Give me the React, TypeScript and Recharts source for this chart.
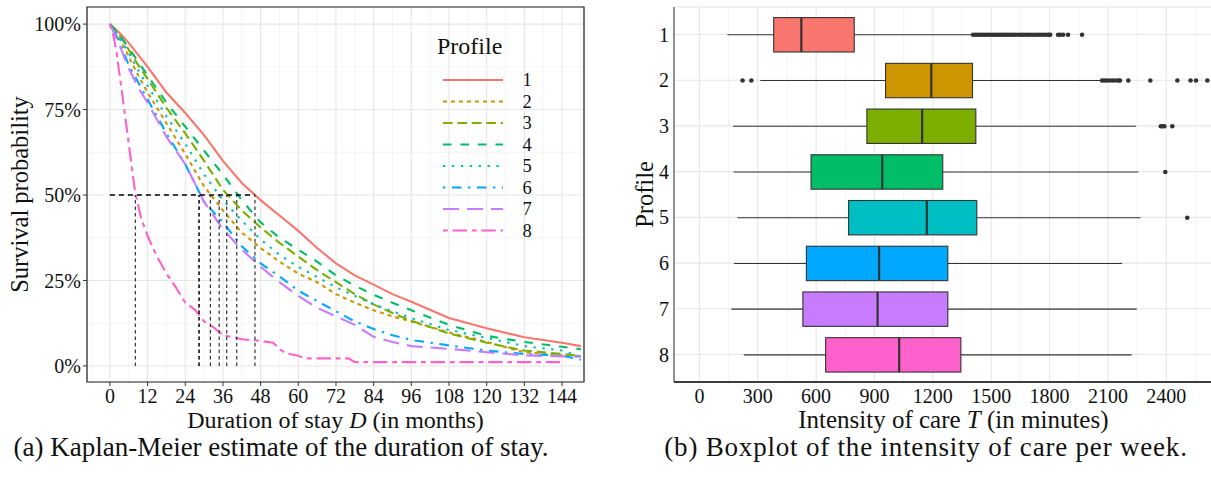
import React from "react";
import {
  LineChart,
  Line,
  ComposedChart,
  Bar,
  XAxis,
  YAxis,
  CartesianGrid,
  ReferenceLine,
  ReferenceArea,
  Legend,
  Label,
} from "recharts";

// ---- Kaplan-Meier curves (months, survival) ----
const months = [0, 3, 6, 9, 12, 18, 24, 30, 36, 42, 48, 54, 60, 66, 72, 78, 84, 90, 96, 108, 120, 132, 144, 150];
const surv1 = [1, 0.975, 0.945, 0.91, 0.875, 0.8, 0.74, 0.675, 0.6, 0.535, 0.485, 0.44, 0.395, 0.345, 0.3, 0.265, 0.238, 0.21, 0.188, 0.14, 0.11, 0.084, 0.068, 0.058];
const surv2 = [1, 0.96, 0.905, 0.85, 0.8, 0.71, 0.62, 0.525, 0.455, 0.39, 0.345, 0.305, 0.27, 0.245, 0.21, 0.185, 0.163, 0.145, 0.13, 0.098, 0.07, 0.04, 0.031, 0.029];
const surv3 = [1, 0.97, 0.925, 0.88, 0.84, 0.755, 0.68, 0.6, 0.515, 0.455, 0.405, 0.36, 0.32, 0.28, 0.245, 0.21, 0.18, 0.155, 0.132, 0.095, 0.068, 0.045, 0.035, 0.029];
const surv4 = [1, 0.97, 0.93, 0.89, 0.85, 0.77, 0.7, 0.63, 0.56, 0.485, 0.42, 0.375, 0.34, 0.305, 0.265, 0.235, 0.208, 0.185, 0.163, 0.12, 0.088, 0.07, 0.056, 0.049];
const surv5 = [1, 0.965, 0.915, 0.865, 0.82, 0.73, 0.65, 0.56, 0.485, 0.425, 0.37, 0.325, 0.29, 0.26, 0.23, 0.205, 0.18, 0.16, 0.14, 0.105, 0.082, 0.058, 0.045, 0.027];
const surv6 = [1, 0.95, 0.88, 0.83, 0.78, 0.68, 0.59, 0.48, 0.42, 0.35, 0.3, 0.262, 0.22, 0.19, 0.16, 0.13, 0.108, 0.09, 0.076, 0.06, 0.045, 0.035, 0.03, 0.018];
const surv7 = [1, 0.94, 0.87, 0.815, 0.77, 0.67, 0.59, 0.48, 0.4, 0.34, 0.29, 0.245, 0.205, 0.17, 0.145, 0.12, 0.085, 0.07, 0.058, 0.05, 0.04, 0.031, 0.028, 0.027];
const months8 = [0, 1, 2, 4, 6, 8, 10, 12, 15, 18, 21, 24, 27, 30, 33, 36, 42, 48, 52, 54, 56, 60, 62, 76, 78, 145];
const surv8 = [1, 0.97, 0.925, 0.79, 0.65, 0.51, 0.43, 0.38, 0.32, 0.27, 0.23, 0.185, 0.165, 0.13, 0.113, 0.09, 0.078, 0.073, 0.068, 0.05, 0.037, 0.03, 0.022, 0.022, 0.011, 0.011];
const medianStay = [46.2, 32, 37.2, 40.4, 34.8, 28.3, 28.5, 8.1];

const monthTicks = [0, 12, 24, 36, 48, 60, 72, 84, 96, 108, 120, 132, 144];
const monthMinor = [-6, 6, 18, 30, 42, 54, 66, 78, 90, 102, 114, 126, 138, 150];
const survTicks = [0, 0.25, 0.5, 0.75, 1];
const survMinor = [0.125, 0.375, 0.625, 0.875];

// ---- Boxplot of intensity of care (minutes) ----
const profiles = ["1", "2", "3", "4", "5", "6", "7", "8"];
const whiskerLow = [144, 313, 173, 176, 195, 178, 164, 228];
const quart1 = [382, 957, 861, 574, 767, 550, 532, 649];
const medianCare = [524, 1192, 1145, 940, 1169, 924, 916, 1027];
const quart3 = [796, 1404, 1421, 1251, 1426, 1277, 1277, 1344];
const whiskerHigh = [1406, 2068, 2244, 2256, 2268, 2173, 2248, 2222];
const outliers1 = [1407, 1420, 1432, 1445, 1458, 1470, 1483, 1496, 1510, 1522, 1535, 1548, 1560, 1573, 1586, 1600, 1612, 1625, 1640, 1655, 1668, 1682, 1695, 1710, 1725, 1740, 1752, 1768, 1782, 1795, 1803, 1844, 1856, 1870, 1895, 1967];
const outliers2 = [222, 267, 2070, 2082, 2095, 2110, 2125, 2140, 2155, 2162, 2205, 2318, 2457, 2525, 2553, 2611];
const outliers3 = [2372, 2380, 2390, 2431];
const outliers4 = [2395];
const outliers5 = [2508];
const minuteTicks = [0, 300, 600, 900, 1200, 1500, 1800, 2100, 2400];
const minuteMinor = [150, 450, 750, 1050, 1350, 1650, 1950, 2250, 2550];

const COLORS = ["#F8766D", "#CD9600", "#7CAE00", "#00BE67", "#00BFC4", "#00A9FF", "#C77CFF", "#FF61CC"];
const DASHES = ["", "4 4", "9.6 4.8", "8.5 9", "2.4 6.5", "2.4 6.5 9.6 6.5", "16 8", "4.8 4.8 14.4 4.8"];
const FONT = '"Liberation Serif", "Times New Roman", serif';
const INK = "#111";

const kmSeries = [surv1, surv2, surv3, surv4, surv5, surv6, surv7].map((s) =>
  months.map((t, i) => ({ t, s: s[i] }))
);
kmSeries.push(months8.map((t, i) => ({ t, s: surv8[i] })));

const outliers = [outliers1, outliers2, outliers3, outliers4, outliers5, [], [], []];
const boxData = profiles.map((p, i) => ({
  profile: p,
  lo: whiskerLow[i],
  q1: quart1[i],
  med: medianCare[i],
  q3: quart3[i],
  hi: whiskerHigh[i],
  out: outliers[i],
}));

function KmLegend() {
  return (
    <svg width={130} height={225} style={{ fontFamily: FONT }}>
      <text x={7} y={26} fontSize={24} fill={INK}>
        Profile
      </text>
      {profiles.map((p, i) => {
        const y = 52 + i * 21.5;
        return (
          <g key={p}>
            <line x1={13} x2={73} y1={y} y2={y} stroke={COLORS[i]} strokeWidth={2} strokeDasharray={DASHES[i]} />
            <text x={97} y={y + 6} fontSize={18.5} fill={INK} textAnchor="middle">
              {p}
            </text>
          </g>
        );
      })}
    </svg>
  );
}

function BoxShape(props: any) {
  const { x, y, width, height, payload } = props;
  const i = profiles.indexOf(payload.profile);
  const px = (v: number) => x + ((v - payload.lo) / (payload.hi - payload.lo)) * width;
  const cy = y + height / 2;
  return (
    <g>
      <line x1={px(payload.lo)} x2={px(payload.q1)} y1={cy} y2={cy} stroke="#333" strokeWidth={1.1} />
      <line x1={px(payload.q3)} x2={px(payload.hi)} y1={cy} y2={cy} stroke="#333" strokeWidth={1.1} />
      <rect
        x={px(payload.q1)}
        y={y}
        width={px(payload.q3) - px(payload.q1)}
        height={height}
        fill={COLORS[i]}
        stroke="#333"
        strokeWidth={1.1}
      />
      <line x1={px(payload.med)} x2={px(payload.med)} y1={y} y2={y + height} stroke="#333" strokeWidth={2.2} />
      {payload.out.map((v: number, k: number) => (
        <circle key={k} cx={px(v)} cy={cy} r={2.3} fill="#333" />
      ))}
    </g>
  );
}

const tickStyle = { fontSize: 20, fill: INK, fontFamily: FONT };
const TITLE = 24;

export default function App() {
  return (
    <div style={{ position: "relative", width: 1211, height: 477, overflow: "hidden", background: "#fff", fontFamily: FONT }}>
      <style>{"body{margin:0}"}</style>

      <div style={{ position: "absolute", left: 0, top: 0 }}>
        <LineChart width={600} height={440} margin={{ top: 7, right: 16, bottom: 0, left: 0 }}>
          <CartesianGrid verticalValues={monthMinor} horizontalValues={survMinor} stroke="#f3f3f3" strokeWidth={0.8} />
          <CartesianGrid stroke="#e6e6e6" strokeWidth={1.1} />
          <XAxis
            type="number"
            dataKey="t"
            domain={[-7.3, 151]}
            ticks={monthTicks}
            allowDataOverflow
            axisLine={false}
            tickSize={4}
            tickMargin={3}
            tickLine={{ stroke: "#333" }}
            tick={tickStyle}
            height={58}
          >
            <Label
              content={({ viewBox }: any) => (
                <text x={viewBox.x + viewBox.width / 2} y={viewBox.y + 46} textAnchor="middle" fontSize={TITLE} fill={INK} fontFamily={FONT}>
                  Duration of stay <tspan fontStyle="italic">D</tspan> (in months)
                </text>
              )}
            />
          </XAxis>
          <YAxis
            type="number"
            domain={[-0.047, 1.05]}
            ticks={survTicks}
            allowDataOverflow
            tickFormatter={(v: number) => `${Math.round(v * 100)}%`}
            axisLine={false}
            tickSize={4}
            tickMargin={2}
            tickLine={{ stroke: "#333" }}
            tick={tickStyle}
            width={87}
          >
            <Label
              content={({ viewBox }: any) => {
                const cx = 28;
                const cy = viewBox.y + viewBox.height / 2;
                return (
                  <text x={cx} y={cy} transform={`rotate(-90 ${cx} ${cy})`} textAnchor="middle" fontSize={TITLE + 0.5} fill={INK} fontFamily={FONT}>
                    Survival probability
                  </text>
                );
              }}
            />
          </YAxis>
          {kmSeries.map((d, i) => (
            <Line
              key={i}
              data={d}
              dataKey="s"
              type="linear"
              dot={false}
              stroke={COLORS[i]}
              strokeWidth={2.1}
              strokeDasharray={DASHES[i] || undefined}
              isAnimationActive={false}
            />
          ))}
          <ReferenceLine segment={[{ x: 0, y: 0.5 }, { x: Math.max(...medianStay), y: 0.5 }]} stroke="#000" strokeWidth={1.5} strokeDasharray="5 4" />
          {medianStay.map((m, i) => (
            <ReferenceLine key={i} segment={[{ x: m, y: 0 }, { x: m, y: 0.5 }]} stroke="#333" strokeWidth={1.2} strokeDasharray="3.5 3" />
          ))}
          <ReferenceArea x1={-7.3} x2={151} y1={-0.047} y2={1.05} fill="none" stroke="#222" strokeWidth={1.2} ifOverflow="visible" />
          <Legend
            layout="vertical"
            align="center"
            verticalAlign="middle"
            content={() => <KmLegend />}
            wrapperStyle={{ left: 430, top: 28, width: 130, height: 225 }}
          />
        </LineChart>
      </div>

      <div style={{ position: "absolute", left: 600, top: 0 }}>
        <ComposedChart layout="vertical" width={640} height={440} data={boxData} margin={{ top: 7, right: 7.3, bottom: 0, left: 0 }}>
          <CartesianGrid horizontal={false} verticalValues={minuteMinor} stroke="#f3f3f3" strokeWidth={0.8} />
          <CartesianGrid stroke="#e6e6e6" strokeWidth={1.1} />
          <XAxis
            type="number"
            domain={[-130.5, 2741.5]}
            ticks={minuteTicks}
            allowDataOverflow
            axisLine={{ stroke: "#000", strokeWidth: 1.3 }}
            tickLine={false}
            tickSize={4}
            tickMargin={3}
            tick={tickStyle}
            height={58}
          >
            <Label
              content={({ viewBox }: any) => (
                <text x={viewBox.x + viewBox.width / 2} y={viewBox.y + 46} textAnchor="middle" fontSize={TITLE + 1} fill={INK} fontFamily={FONT}>
                  Intensity of care <tspan fontStyle="italic">T</tspan> (in minutes)
                </text>
              )}
            />
          </XAxis>
          <XAxis
            xAxisId="top"
            orientation="top"
            type="number"
            domain={[-130.5, 2741.5]}
            allowDataOverflow
            tick={false}
            tickLine={false}
            axisLine={{ stroke: "#555" }}
            height={0}
          />
          <YAxis
            type="category"
            dataKey="profile"
            width={74}
            padding={{ top: 4.6, bottom: 4.6 }}
            axisLine={{ stroke: "#333" }}
            tickLine={false}
            tickSize={3}
            tickMargin={2}
            tick={tickStyle}
          >
            <Label
              content={({ viewBox }: any) => {
                const cx = 53;
                const cy = viewBox.y + viewBox.height / 2;
                return (
                  <text x={cx} y={cy} transform={`rotate(-90 ${cx} ${cy})`} textAnchor="middle" fontSize={TITLE + 0.5} fill={INK} fontFamily={FONT}>
                    Profile
                  </text>
                );
              }}
            />
          </YAxis>
          <Bar dataKey={(d: any) => [d.lo, d.hi]} barSize={34.4} shape={BoxShape} isAnimationActive={false} />
        </ComposedChart>
      </div>

      <div style={{ position: "absolute", left: 0, width: 562, top: 434, textAlign: "center", fontSize: 27, lineHeight: "26px", color: INK }}>
        (a) Kaplan-Meier estimate of the duration of stay.
      </div>
      <div style={{ position: "absolute", left: 640, width: 572, top: 434, textAlign: "center", fontSize: 27, lineHeight: "26px", letterSpacing: 0.8, color: INK }}>
        (b) Boxplot of the intensity of care per week.
      </div>
    </div>
  );
}
